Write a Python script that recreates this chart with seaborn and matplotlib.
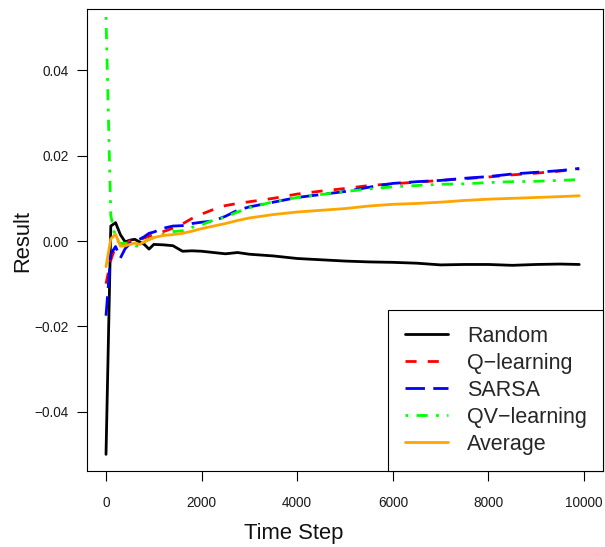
import matplotlib
matplotlib.use("Agg")
import matplotlib.pyplot as plt
import seaborn as sns
import pandas as pd
from matplotlib.lines import Line2D

# ---- data ----
time_step = [0, 100, 200, 300, 400, 500, 600, 700, 800, 900, 1000, 1200, 1400, 1600,
             1800, 2000, 2250, 2500, 2750, 3000, 3500, 4000, 4500, 5000, 5500, 6000,
             6500, 7000, 7500, 8000, 8500, 9000, 9500, 9900]

random_res = [-0.0500, 0.0035, 0.0043, 0.0015, -0.0002, 0.0002, 0.0004, -0.0002, -0.0008,
              -0.0019, -0.0008, -0.0009, -0.0011, -0.0024, -0.0023, -0.0024, -0.0027,
              -0.0030, -0.0027, -0.0031, -0.0035, -0.0041, -0.0044, -0.0047, -0.0049,
              -0.0050, -0.0052, -0.0056, -0.0055, -0.0055, -0.0057, -0.0055, -0.0054, -0.0055]

q_learning = [-0.0100, -0.0045, -0.0013, -0.0012, -0.0010, 0.0001, 0.0004, 0.0003, 0.0007,
              0.0011, 0.0016, 0.0022, 0.0030, 0.0040, 0.0053, 0.0063, 0.0074, 0.0083,
              0.0088, 0.0092, 0.0100, 0.0110, 0.0117, 0.0123, 0.0130, 0.0134, 0.0138,
              0.0142, 0.0146, 0.0150, 0.0155, 0.0159, 0.0164, 0.0169]

sarsa = [-0.0175, -0.0030, -0.0013, -0.0040, -0.0018, -0.0006, 0.0000, 0.0004, 0.0010,
         0.0018, 0.0021, 0.0030, 0.0035, 0.0036, 0.0041, 0.0044, 0.0047, 0.0058, 0.0072,
         0.0080, 0.0091, 0.0102, 0.0109, 0.0116, 0.0126, 0.0135, 0.0139, 0.0142, 0.0147,
         0.0151, 0.0157, 0.0161, 0.0165, 0.0170]

qv_learning = [0.0525, 0.0060, 0.0005, -0.0006, -0.0005, -0.0008, -0.0010, -0.0014, -0.0002,
               0.0004, 0.0008, 0.0016, 0.0022, 0.0024, 0.0032, 0.0038, 0.0049, 0.0056,
               0.0068, 0.0078, 0.0092, 0.0102, 0.0109, 0.0116, 0.0122, 0.0127, 0.0130,
               0.0133, 0.0134, 0.0137, 0.0139, 0.0140, 0.0142, 0.0144]

average = [-0.0060, 0.0005, 0.0016, -0.0012, -0.0011, -0.0008, -0.0005, -0.0008, -0.0002,
           0.0003, 0.0008, 0.0013, 0.0015, 0.0018, 0.0023, 0.0029, 0.0035, 0.0041, 0.0048,
           0.0054, 0.0062, 0.0068, 0.0072, 0.0076, 0.0082, 0.0086, 0.0088, 0.0091, 0.0095,
           0.0098, 0.0100, 0.0102, 0.0104, 0.0106]

series_names = ["Random", "Q\u2212learning", "SARSA", "QV\u2212learning", "Average"]
series_values = [random_res, q_learning, sarsa, qv_learning, average]
series_colors = ["#000000", "#FF0000", "#0000FF", "#00FF00", "#FFA500"]
series_dashes = [None, (4, 4), (7, 3), (1, 3, 4, 3), None]

x_ticks = [0, 2000, 4000, 6000, 8000, 10000]
y_ticks = [-0.04, -0.02, 0.00, 0.02, 0.04]
y_tick_labels = ["\u22120.04", "\u22120.02", "0.00", "0.02", "0.04"]

# ---- style ----
sns.set_style("white")
plt.rcParams["font.family"] = ["Liberation Sans", "DejaVu Sans"]

fig = plt.figure(figsize=(6.05, 5.47), dpi=100)
W, H = 605, 547
ax = fig.add_axes([86.7 / W, (H - 471) / H, (603 - 86.7) / W, (471 - 9.3) / H])

frames = []
for name, vals in zip(series_names, series_values):
    frames.append(pd.DataFrame({"Time Step": time_step, "Result": vals, "Method": name}))
df = pd.concat(frames, ignore_index=True)

lw = 2.0
handles = []
for name, col, dsh in zip(series_names, series_colors, series_dashes):
    sub = df[df["Method"] == name]
    sns.lineplot(data=sub, x="Time Step", y="Result", color=col, lw=lw,
                 ax=ax, legend=False, estimator=None, sort=False)
    line = ax.lines[-1]
    if dsh is not None:
        line.set_dashes(dsh)
    h = Line2D([], [], color=col, lw=lw)
    if dsh is not None:
        h.set_dashes(dsh)
    handles.append(h)

ax.set_xlim(-404, 10397)
ax.set_ylim(-0.0539, 0.0543)
ax.set_xticks(x_ticks)
ax.set_xticklabels([str(t) for t in x_ticks])
ax.set_yticks(y_ticks)
ax.set_yticklabels(y_tick_labels)

for s in ax.spines.values():
    s.set_color("black")
    s.set_linewidth(0.8)
    s.set_visible(True)

ax.tick_params(axis="both", direction="out", length=7.2, width=0.8, color="black",
               labelsize=9.8, labelcolor="#1a1a1a", bottom=True, left=True)
ax.tick_params(axis="x", pad=10.5)
ax.tick_params(axis="y", pad=5.5)

ax.set_xlabel("Time Step", fontsize=15.8, color="#111111")
ax.set_ylabel("Result", fontsize=15.8, color="#111111")
ax.xaxis.set_label_coords((294 - 86.7) / (603 - 86.7), -(534 - 471) / (471 - 9.3))
ax.xaxis.label.set_va("center")
ax.yaxis.set_label_coords(-(86.7 - 23) / (603 - 86.7), (471 - 241) / (471 - 9.3))
ax.yaxis.label.set_va("center")

leg = ax.legend(handles, series_names, loc="lower right", bbox_to_anchor=(1.0, 0.0),
                borderaxespad=0.0, frameon=True, fancybox=False, fontsize=15.5,
                handlelength=2.0, handletextpad=0.9, labelspacing=0.28,
                borderpad=0.75, framealpha=1.0)
leg.get_frame().set_edgecolor("black")
leg.get_frame().set_linewidth(0.8)

fig.savefig("out.png", dpi=100, facecolor="white")
